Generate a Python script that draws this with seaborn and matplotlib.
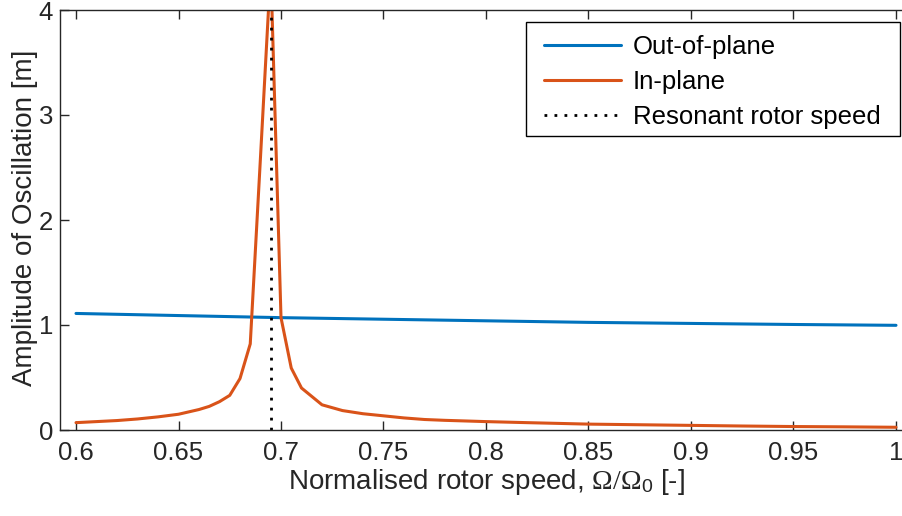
import numpy as np
import pandas as pd
import matplotlib
matplotlib.use("Agg")
import matplotlib.pyplot as plt
import matplotlib.patches as mpatches
import seaborn as sns

# Data
speed_blue = [0.60, 0.65, 0.70, 0.75, 0.80, 0.85, 0.90, 0.95, 1.00]
out_of_plane = [1.11, 1.09, 1.07, 1.055, 1.04, 1.025, 1.015, 1.005, 0.997]

speed_orange = [0.60, 0.61, 0.62, 0.63, 0.64, 0.65, 0.66, 0.665, 0.67, 0.675, 0.68,
                0.685, 0.69, 0.695, 0.70, 0.705, 0.71, 0.72, 0.73, 0.74, 0.75,
                0.76, 0.77, 0.78, 0.79, 0.80, 0.82, 0.85, 0.875, 0.90, 0.925,
                0.95, 0.975, 1.00]
in_plane = [0.07, 0.08, 0.09, 0.105, 0.125, 0.15, 0.195, 0.225, 0.27, 0.33, 0.49,
            0.82, 2.6, 4.4, 1.07, 0.59, 0.40, 0.24, 0.185, 0.155, 0.135,
            0.115, 0.10, 0.092, 0.086, 0.08, 0.07, 0.056, 0.05, 0.044, 0.038,
            0.033, 0.03, 0.026]

resonant_speed = 0.695
xticks = [0.6, 0.65, 0.7, 0.75, 0.8, 0.85, 0.9, 0.95, 1.0]
xticklabels = ["0.6", "0.65", "0.7", "0.75", "0.8", "0.85", "0.9", "0.95", "1"]
yticks = [0, 1, 2, 3, 4]

sns.set_theme(style="white")
plt.rcParams['font.family'] = ['Liberation Sans', 'DejaVu Sans']
plt.rcParams['mathtext.fontset'] = 'custom'
plt.rcParams['mathtext.rm'] = 'Liberation Serif'
plt.rcParams['mathtext.it'] = 'Liberation Serif:italic'
plt.rcParams['mathtext.sf'] = 'Liberation Sans'

W, H = 903, 516
fig = plt.figure(figsize=(W / 100, H / 100), dpi=100)
# axes box: left spine at x=60px, right spine beyond the image edge; y from 10 to 430 px
ax = fig.add_axes([60 / W, 1 - 430 / H, (912 - 60) / W, 420 / H])

df_b = pd.DataFrame({"x": speed_blue, "y": out_of_plane})
df_o = pd.DataFrame({"x": speed_orange, "y": in_plane})
sns.lineplot(data=df_b, x="x", y="y", ax=ax, color="#0072BD", lw=2.2, label="Out-of-plane")
sns.lineplot(data=df_o, x="x", y="y", ax=ax, color="#D95319", lw=2.2, label="In-plane")
ax.axvline(resonant_speed, color="black", lw=2.0, ls=(0, (1, 2.6)), label="Resonant rotor speed")

ax.set_xlim(0.6 - 16 / 2050, 1.0 + 16 / 2050)
ax.set_ylim(0, 4)
ax.set_xticks(xticks)
ax.set_xticklabels(xticklabels)
ax.set_yticks(yticks)

axc = "#262626"
for s in ax.spines.values():
    s.set_visible(True)
    s.set_color(axc)
    s.set_linewidth(1.0)
ax.tick_params(axis="both", which="both", direction="in", length=6.5, width=1.0,
               color=axc, labelcolor=axc, labelsize=18.5, top=True, right=True,
               bottom=True, left=True)
ax.tick_params(axis="x", pad=8)
ax.tick_params(axis="y", pad=5)

ax.set_xlabel(r"Normalised rotor speed, $\Omega/\Omega_{\mathsf{0}}$ [-]", fontsize=20, color=axc)
ax.set_ylabel("Amplitude of Oscillation [m]", fontsize=20, color=axc)
ax.xaxis.set_label_coords(0.5, (430 - 467) / 420)
ax.yaxis.set_label_coords((38 - 60) / 852, (430 - 218) / 420)

# legend frame drawn as a rectangle, legend content without its own frame
frame = mpatches.Rectangle((526 / W, 1 - 136 / H), (900 - 526) / W, (136 - 22) / H,
                           transform=fig.transFigure, facecolor="white", edgecolor="black",
                           lw=1.0, zorder=4.9, clip_on=False)
ax.add_patch(frame)
leg = ax.legend(loc="upper left", bbox_to_anchor=(544 / W, 1 - 35 / H),
                bbox_transform=fig.transFigure, borderaxespad=0, borderpad=0,
                fontsize=18.5, frameon=False, handlelength=3.0, handletextpad=0.45,
                labelspacing=0.43)
leg.set_zorder(5)
for t in leg.get_texts():
    t.set_color("black")

fig.savefig("out.png", dpi=100)
